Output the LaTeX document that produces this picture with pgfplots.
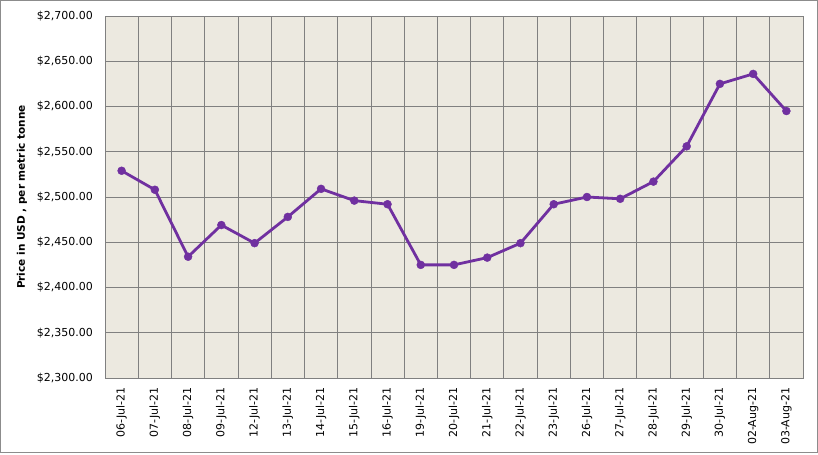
\documentclass[border=0pt]{standalone}
\usepackage{pgfplots}
\pgfplotsset{compat=1.18}
\usepackage{fontspec}
\setmainfont{DejaVu Sans}
\definecolor{plotbg}{RGB}{236,233,224}
\definecolor{gridgray}{RGB}{128,128,128}
\definecolor{linepurple}{RGB}{112,48,160}
\definecolor{framegray}{RGB}{140,140,140}
\begin{document}
\begin{tikzpicture}[x=1pt,y=1pt]
\draw[framegray, line width=1pt] (0.5,0.5) rectangle (817.5,452.5);
\begin{axis}[
  at={(105pt,75pt)}, anchor=south west,
  scale only axis, width=698pt, height=362pt,
  xmin=-0.5, xmax=20.5, ymin=2300, ymax=2700,
  axis background/.style={fill=plotbg},
  axis line style={gridgray, line width=0.8pt},
  xtick={0,...,20},
  xticklabels={06-Jul-21,07-Jul-21,08-Jul-21,09-Jul-21,12-Jul-21,13-Jul-21,14-Jul-21,15-Jul-21,16-Jul-21,19-Jul-21,20-Jul-21,21-Jul-21,22-Jul-21,23-Jul-21,26-Jul-21,27-Jul-21,28-Jul-21,29-Jul-21,30-Jul-21,02-Aug-21,03-Aug-21},
  minor xtick={-0.5,0.5,...,20.5},
  xminorgrids=true, xmajorgrids=false,
  ytick={2300,2350,...,2700},
  yticklabels={\$2{,}300.00,\$2{,}350.00,\$2{,}400.00,\$2{,}450.00,\$2{,}500.00,\$2{,}550.00,\$2{,}600.00,\$2{,}650.00,\$2{,}700.00},
  ymajorgrids=true,
  grid style={gridgray, line width=0.8pt},
  minor grid style={gridgray, line width=0.8pt},
  major tick length=0pt, minor tick length=0pt,
  tick label style={font=\fontsize{11}{13}\selectfont, black},
  xticklabel style={rotate=90, anchor=east, inner xsep=9.5pt, inner ysep=0pt},
  yticklabel style={anchor=east, inner sep=0pt, xshift=-12pt},
  ylabel={Price in USD , per metric tonne},
  ylabel style={at={(axis description cs:-0.119,0.5)}, anchor=center, font=\fontsize{10.5}{12}\selectfont\bfseries},
  clip=false,
]
\addplot[linepurple, line width=2.8pt, mark=*, mark size=4pt, mark options={solid, fill=linepurple, draw=linepurple, line width=0.4pt}]
coordinates {
(0,2529) (1,2508) (2,2434) (3,2469) (4,2449) (5,2478) (6,2509) (7,2496) (8,2492) (9,2425) (10,2425) (11,2433) (12,2449) (13,2492) (14,2500) (15,2498) (16,2517) (17,2556) (18,2625) (19,2636) (20,2595)
};
\end{axis}
\end{tikzpicture}
\end{document}
